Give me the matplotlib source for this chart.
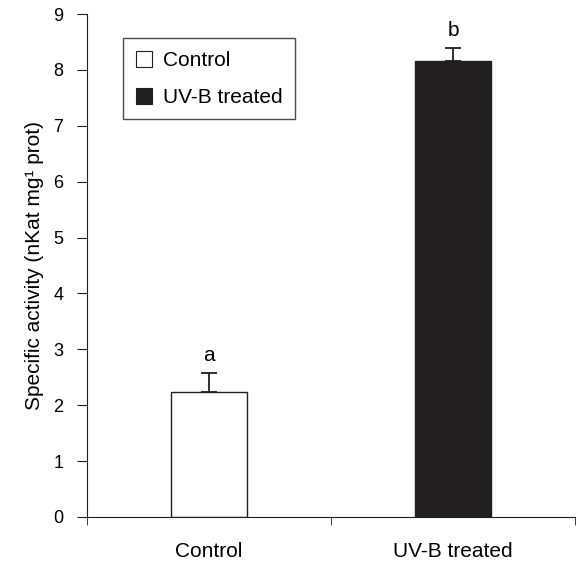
import numpy as np
import matplotlib.pyplot as plt
from matplotlib.patches import Patch

plt.rcParams['font.family'] = ['Liberation Sans', 'DejaVu Sans']

categories = ['Control', 'UV-B treated']
means = [2.24, 8.16]
errors = [0.34, 0.23]
letters = ['a', 'b']
colors = ['white', '#231f20']

fig = plt.figure(figsize=(5.78, 5.62), dpi=100)
ax = fig.add_axes([0.1505, 0.0801, 0.8443, 0.8949])

x = np.arange(len(categories))
ax.bar(x, means, width=0.315, color=colors, edgecolor='#231f20', linewidth=1.0, zorder=2)
ax.errorbar(x, means, yerr=[np.zeros(len(errors)), errors], fmt='none',
            ecolor='#231f20', elinewidth=1.3, capsize=5.5, capthick=1.3, zorder=1)
for xi, m, e, lt in zip(x, means, errors, letters):
    ax.text(xi, m + e + 0.22, lt, ha='center', va='baseline', fontsize=15)

ax.set_xlim(-0.5, 1.5)
ax.set_ylim(0, 9)
ax.set_yticks(range(10))
ax.set_xticks(x)
ax.set_xticklabels(categories, fontsize=15)
ax.set_xticks([-0.5, 0.5, 1.5], minor=True)
ax.tick_params(axis='x', which='major', length=0, pad=18)
ax.tick_params(axis='x', which='minor', length=6, direction='out', color='#231f20')
ax.tick_params(axis='y', length=7, direction='out', labelsize=13, pad=10, color='#231f20')
ax.set_ylabel('Specific activity (nKat mg¹ prot)', fontsize=15, labelpad=7)

for s in ['top', 'right']:
    ax.spines[s].set_visible(False)
for s in ['left', 'bottom']:
    ax.spines[s].set_color('#231f20')

handles = [Patch(facecolor=c, edgecolor='#231f20', linewidth=0.8) for c in colors]
leg = ax.legend(handles, categories, loc='upper left', bbox_to_anchor=(0.074, 0.952),
                borderaxespad=0, fontsize=15, frameon=True, fancybox=False,
                edgecolor='#231f20', handlelength=0.8, handleheight=0.8,
                handletextpad=0.5, borderpad=0.6, labelspacing=0.85)
leg.get_frame().set_linewidth(1.0)

fig.savefig('out.png', dpi=100)
